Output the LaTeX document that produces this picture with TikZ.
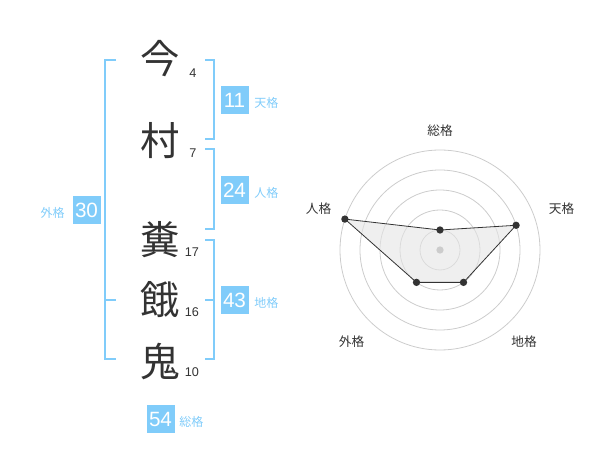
\documentclass[tikz,border=0pt]{standalone}
\usepackage{fontspec}
\setmainfont{Liberation Sans}
\newfontfamily\cjk{Noto Sans CJK JP}
\definecolor{bl}{HTML}{80CCFA}
\definecolor{ink}{HTML}{333333}
\definecolor{ring}{HTML}{CCCCCC}
\begin{document}
\begin{tikzpicture}[x=0.75pt,y=-0.75pt,
  kanji/.style={font=\cjk\fontsize{29.5}{30}\selectfont, text=ink, inner sep=0pt},
  strokes/.style={font=\fontsize{9.5}{10}\selectfont, text=ink, inner sep=0pt},
  numbox/.style={fill=bl, text=white, minimum width=21pt, minimum height=21pt, inner sep=0pt, font=\fontsize{15.5}{16}\selectfont},
  kaku/.style={font=\cjk\fontsize{9}{10}\selectfont, text=bl, inner sep=0pt},
  bracket/.style={draw=bl, line width=1.5pt},
  axislabel/.style={font=\cjk\fontsize{9.5}{10}\selectfont, text=ink, inner sep=0pt},
  dot/.style={circle, fill=ink, inner sep=0pt, minimum size=5.5pt},
  ringline/.style={draw=ring, line width=0.6pt}]
\useasboundingbox (0,0) rectangle (600,470);

% characters
\node[kanji] (c1) at (160,59) {今};
\node[kanji] (c2) at (160,141) {村};
\node[kanji] (c3) at (160,240) {糞};
\node[kanji] (c4) at (160,300) {餓};
\node[kanji] (c5) at (160,362) {鬼};
\node[strokes] (s1) at (193,73) {4};
\node[strokes] (s2) at (193,153) {7};
\node[strokes] (s3) at (192,252) {17};
\node[strokes] (s4) at (192,312) {16};
\node[strokes] (s5) at (192,372) {10};

% brackets
\draw[bracket] (116,60) -- (105,60) -- (105,359) -- (116,359);
\draw[bracket] (105,300) -- (116,300);
\draw[bracket] (205,60) -- (214,60) -- (214,139) -- (205,139);
\draw[bracket] (205,149) -- (214,149) -- (214,229) -- (205,229);
\draw[bracket] (205,240) -- (214,240) -- (214,359) -- (205,359);
\draw[bracket] (205,300) -- (214,300);

% boxes and labels
\node[numbox] (b11) at (234.5,100) {11};
\node[kaku, anchor=west] (l11) at (254,103) {天格};
\node[numbox] (b24) at (234.5,190) {24};
\node[kaku, anchor=west] (l24) at (254,193) {人格};
\node[numbox] (b43) at (234.5,300) {43};
\node[kaku, anchor=west] (l43) at (254,303) {地格};
\node[numbox] (b30) at (86.5,210) {30};
\node[kaku, anchor=east] (l30) at (65,213) {外格};
\node[numbox] (b54) at (160.5,419) {54};
\node[kaku, anchor=west] (l54) at (179,422) {総格};

% radar
\begin{scope}[shift={(440,250)}, yscale=-1]
  \foreach \r in {20,40,60,80,100} \draw[ringline] (0,0) circle[radius=\r];
  \coordinate (pS) at (90:20);
  \coordinate (pT) at (18:80);
  \coordinate (pC) at (-54:40);
  \coordinate (pG) at (-126:40);
  \coordinate (pJ) at (162:100);
  \fill[black!10, opacity=0.6] (pS) -- (pT) -- (pC) -- (pG) -- (pJ) -- cycle;
  \draw[ink, line width=0.6pt] (pS) -- (pT) -- (pC) -- (pG) -- (pJ) -- cycle;
  \node[circle, fill=ring, inner sep=0pt, minimum size=5.5pt] (ctr) at (0,0) {};
  \node[dot] (dS) at (pS) {};
  \node[dot] (dT) at (pT) {};
  \node[dot] (dC) at (pC) {};
  \node[dot] (dG) at (pG) {};
  \node[dot] (dJ) at (pJ) {};
\end{scope}
\node[axislabel] (aS) at (440,130.5) {総格};
\node[axislabel] (aT) at (561.5,208.5) {天格};
\node[axislabel] (aJ) at (318.5,208.5) {人格};
\node[axislabel] (aG) at (351.5,341.5) {外格};
\node[axislabel] (aC) at (524,341.5) {地格};
\end{tikzpicture}
\end{document}
